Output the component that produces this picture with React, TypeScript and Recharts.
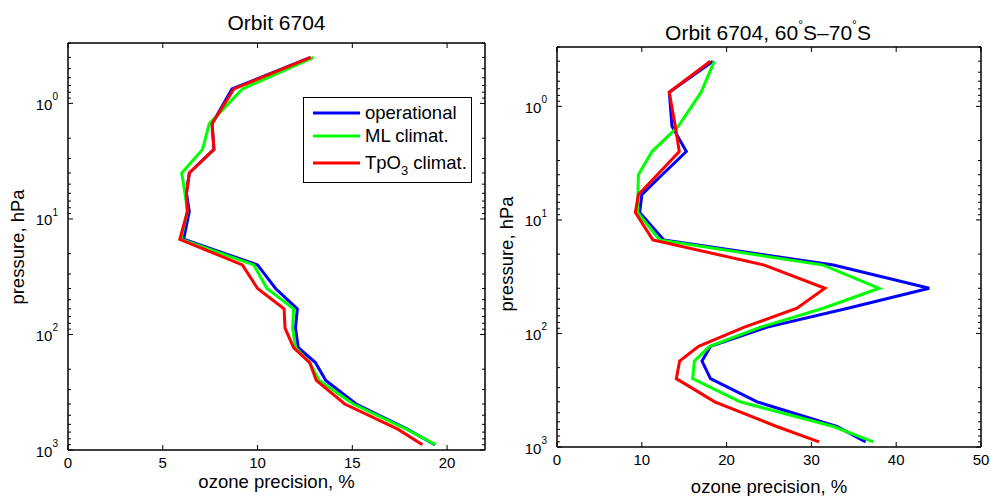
import { LineChart, Line, XAxis, YAxis, Legend } from "recharts"

const FONT = "'Liberation Sans', Arial, Helvetica, sans-serif"

// pressure levels, hPa (top of profile first)
const PRESSURE = [0.4, 0.75, 1.5, 2.5, 4, 6, 8.6, 15, 25, 40, 60, 88, 130, 175, 250, 400, 660, 900]

// left panel: whole orbit
const OPERATIONAL_ORBIT = [12.8, 8.65, 7.6, 7.7, 6.4, 6.25, 6.4, 6.1, 10.0, 10.95, 12.1, 12.0, 12.15, 13.05, 13.6, 15.2, 17.9, 19.35]
const ML_ORBIT = [12.95, 9.2, 7.45, 7.1, 6.0, 6.17, 6.3, 5.95, 9.8, 10.5, 11.9, 11.85, 12.0, 12.75, 13.25, 15.05, 17.85, 19.4]
const TPO3_ORBIT = [12.8, 8.75, 7.6, 7.7, 6.4, 6.25, 6.3, 5.9, 9.2, 10.0, 11.4, 11.45, 11.9, 12.75, 13.1, 14.6, 17.4, 18.7]

// right panel: 60S-70S
const OPERATIONAL_SOUTH = [18.4, 13.24, 13.56, 15.25, 12.4, 10.0, 9.75, 12.6, 32.6, 43.9, 34.3, 24.8, 18.1, 17.1, 18.1, 23.6, 33.0, 36.4]
const ML_SOUTH = [18.55, 17.0, 14.3, 11.2, 9.6, 9.55, 9.5, 12.1, 31.4, 38.0, 31.4, 24.0, 18.0, 16.2, 16.0, 21.6, 32.6, 37.3]
const TPO3_SOUTH = [18.08, 13.24, 13.95, 14.42, 11.83, 9.6, 9.24, 11.3, 24.45, 31.6, 28.3, 22.1, 16.7, 14.46, 14.07, 18.6, 25.9, 30.9]

const LEFT_X_TICKS = [0, 5, 10, 15, 20]
const RIGHT_X_TICKS = [0, 10, 20, 30, 40, 50]
const P_TICKS = [0.3, 0.4, 0.5, 0.6, 0.7, 0.8, 0.9, 1, 2, 3, 4, 5, 6, 7, 8, 9, 10, 20, 30, 40, 50, 60, 70, 80, 90, 100, 200, 300, 400, 500, 600, 700, 800, 900, 1000]

const SERIES = [
  { key: "op", name: "operational", color: "#0000ff" },
  { key: "ml", name: "ML climat.", color: "#00ff00" },
  { key: "tp", name: "TpO3 climat.", color: "#ff0000" },
]

const buildRows = (op: number[], ml: number[], tp: number[]) =>
  PRESSURE.map((p, i) => ({ p, op: op[i], ml: ml[i], tp: tp[i] }))

const orbitData = buildRows(OPERATIONAL_ORBIT, ML_ORBIT, TPO3_ORBIT)
const southData = buildRows(OPERATIONAL_SOUTH, ML_SOUTH, TPO3_SOUTH)

const isMajor = (v: number) => Math.abs(Math.log10(v) - Math.round(Math.log10(v))) < 1e-9

const XTickBottom = (props: any) => {
  const { x, y, payload } = props
  return (
    <g>
      <line x1={x} x2={x} y1={y} y2={y - 5} stroke="#000" />
      <text x={x} y={y + 18} textAnchor="middle" fontSize={15} fontFamily={FONT} fill="#000">
        {payload.value}
      </text>
    </g>
  )
}

const XTickTop = (props: any) => {
  const { x, y } = props
  return <line x1={x} x2={x} y1={y} y2={y + 5} stroke="#000" />
}

const YTickLeft = (props: any) => {
  const { x, y, payload } = props
  const v = payload.value
  if (!isMajor(v)) return <line x1={x} x2={x + 3} y1={y} y2={y} stroke="#000" />
  return (
    <g>
      <line x1={x} x2={x + 5} y1={y} y2={y} stroke="#000" />
      <text x={x - 10} y={y + 6.5} textAnchor="end" fontSize={15} fontFamily={FONT} fill="#000">
        10
        <tspan dy={-9.5} fontSize={10}>
          {Math.round(Math.log10(v))}
        </tspan>
      </text>
    </g>
  )
}

const YTickRight = (props: any) => {
  const { x, y, payload } = props
  const len = isMajor(payload.value) ? 5 : 3
  return <line x1={x} x2={x - len} y1={y} y2={y} stroke="#000" />
}

// legend drawn from SERIES so the order stays as in the figure
const renderLegend = () => {
  const centers = [15, 38, 65]
  return (
    <div
      style={{
        position: "relative",
        width: 169,
        height: 86,
        boxSizing: "border-box",
        border: "1.5px solid #000",
        background: "#fff",
        fontFamily: FONT,
        fontSize: 18.5,
        color: "#000",
      }}
    >
      {SERIES.map((s, i) => (
        <div
          key={`leg-${s.key}`}
          style={{ position: "absolute", left: 9, top: centers[i] - 12, height: 24, display: "flex", alignItems: "center", whiteSpace: "nowrap" }}
        >
          <svg width={47} height={4} style={{ marginRight: 5 }}>
            <line x1={0} x2={47} y1={2} y2={2} stroke={s.color} strokeWidth={3} />
          </svg>
          {s.key === "tp" ? (
            <span>
              TpO<sub style={{ fontSize: 13, verticalAlign: -6, lineHeight: 0 }}>3</sub> climat.
            </span>
          ) : (
            <span>{s.name}</span>
          )}
        </div>
      ))}
    </div>
  )
}

interface PanelProps {
  data: any[]
  xMax: number
  xTicks: number[]
  margin: { top: number; right: number; bottom: number; left: number }
  showLegend?: boolean
}

function ProfilePanel({ data, xMax, xTicks, margin, showLegend }: PanelProps) {
  const axisLine = { stroke: "#000", strokeWidth: 1.5 }
  return (
    <LineChart width={495} height={496} data={data} layout="vertical" margin={margin}>
      <XAxis
        xAxisId="b"
        type="number"
        domain={[0, xMax]}
        ticks={xTicks}
        interval={0}
        height={1}
        tickSize={0}
        tickMargin={0}
        tickLine={false}
        tick={<XTickBottom />}
        axisLine={axisLine}
        allowDataOverflow
      />
      <XAxis
        xAxisId="t"
        orientation="top"
        type="number"
        domain={[0, xMax]}
        ticks={xTicks}
        interval={0}
        height={1}
        tickSize={0}
        tickMargin={0}
        tickLine={false}
        tick={<XTickTop />}
        axisLine={axisLine}
        allowDataOverflow
      />
      <YAxis
        yAxisId="l"
        type="number"
        dataKey="p"
        scale="log"
        domain={[0.3, 1000]}
        allowDataOverflow
        ticks={P_TICKS}
        interval={0}
        width={1}
        tickSize={0}
        tickMargin={0}
        tickLine={false}
        tick={<YTickLeft />}
        axisLine={axisLine}
      />
      <YAxis
        yAxisId="r"
        orientation="right"
        type="number"
        dataKey="p"
        scale="log"
        domain={[0.3, 1000]}
        allowDataOverflow
        ticks={P_TICKS}
        interval={0}
        width={1}
        tickSize={0}
        tickMargin={0}
        tickLine={false}
        tick={<YTickRight />}
        axisLine={axisLine}
      />
      {SERIES.map((s) => (
        <Line
          key={s.key}
          xAxisId="b"
          yAxisId="l"
          type="linear"
          dataKey={s.key}
          name={s.name}
          stroke={s.color}
          strokeWidth={3}
          dot={false}
          isAnimationActive={false}
        />
      ))}
      {showLegend && (
        <Legend
          layout="horizontal"
          verticalAlign="middle"
          align="center"
          content={renderLegend}
          wrapperStyle={{ left: 303, top: 97, width: 169, height: 86 }}
        />
      )}
    </LineChart>
  )
}

export default function App() {
  return (
    <div style={{ position: "absolute", left: 0, top: 0, width: 991, height: 496, background: "#fff", overflow: "hidden" }}>
      <div style={{ position: "absolute", left: 0, top: 0 }}>
        <ProfilePanel
          data={orbitData}
          xMax={22}
          xTicks={LEFT_X_TICKS}
          margin={{ top: 42, right: 9, bottom: 45, left: 67 }}
          showLegend
        />
      </div>
      <div style={{ position: "absolute", left: 495, top: 0 }}>
        <ProfilePanel
          data={southData}
          xMax={50}
          xTicks={RIGHT_X_TICKS}
          margin={{ top: 46, right: 8, bottom: 48, left: 61 }}
        />
      </div>
      <svg width={991} height={496} style={{ position: "absolute", left: 0, top: 0, pointerEvents: "none" }}>
        <g fontFamily={FONT} fill="#000">
          <text x={276.5} y={30} textAnchor="middle" fontSize={21}>
            Orbit 6704
          </text>
          <text x={768} y={40} textAnchor="middle" fontSize={21}>
            Orbit 6704, 60
            <tspan dy={-11} fontSize={12}>°</tspan>
            <tspan dy={11}>S–70</tspan>
            <tspan dy={-11} fontSize={12}>°</tspan>
            <tspan dy={11}>S</tspan>
          </text>
          <text x={276.5} y={488} textAnchor="middle" fontSize={18.5}>
            ozone precision, %
          </text>
          <text x={769} y={493} textAnchor="middle" fontSize={18.5}>
            ozone precision, %
          </text>
          <text transform="translate(24,247) rotate(-90)" textAnchor="middle" fontSize={18.5}>
            pressure, hPa
          </text>
          <text transform="translate(513,254) rotate(-90)" textAnchor="middle" fontSize={18.5}>
            pressure, hPa
          </text>
        </g>
      </svg>
    </div>
  )
}
